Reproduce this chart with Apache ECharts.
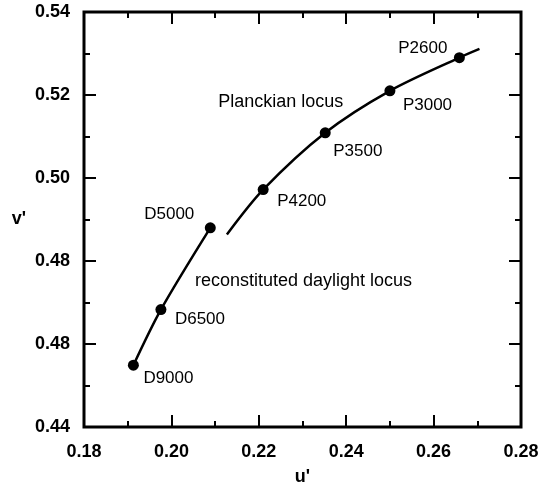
<!DOCTYPE html>
<html>
<head>
<meta charset="utf-8">
<script src="https://cdn.jsdelivr.net/npm/echarts@6/dist/echarts.min.js"></script>
<style>html,body{margin:0;padding:0;background:#fff}#c{width:548px;height:491px}</style>
</head>
<body>
<div id="c"></div>
<script>
// Planckian locus curve (u', v')
const planckU = [0.2127, 0.2210, 0.2352, 0.2500, 0.2659, 0.2705];
const planckV = [0.4864, 0.4972, 0.5109, 0.5210, 0.5290, 0.5311];
// Marked Planckian points
const planckNames = ['P4200', 'P3500', 'P3000', 'P2600'];
const planckPtU = [0.2210, 0.2352, 0.2500, 0.2659];
const planckPtV = [0.4972, 0.5109, 0.5210, 0.5290];
// Reconstituted daylight locus
const dayNames = ['D9000', 'D6500', 'D5000'];
const dayU = [0.1913, 0.1976, 0.2089];
const dayV = [0.4549, 0.4683, 0.4880];
// Tick labels as printed
const xTickLabels = ['0.18', '0.20', '0.22', '0.24', '0.26', '0.28'];
const yTickLabels = ['0.44', '0.48', '0.48', '0.50', '0.52', '0.54'];
// Annotations
const noteTexts = ['Planckian locus', 'reconstituted daylight locus'];
const noteU = [0.2107, 0.2054];
const noteV = [0.5183, 0.4752];

// label placement (style, kept separate from data)
const planckLabelStyle = [
  {align: 'left', offset: [14, 12]},
  {align: 'left', offset: [8, 19]},
  {align: 'left', offset: [13, 14]},
  {align: 'right', offset: [-12, -9]}
];
const dayLabelStyle = [
  {align: 'left', offset: [10, 13]},
  {align: 'left', offset: [14, 10]},
  {align: 'right', offset: [-16, -13]}
];

const FONT = '"Liberation Sans", Arial, Helvetica, sans-serif';
const zip = (a, b) => a.map((v, i) => [v, b[i]]);

function axisCommon(labels, min, show) {
  return {
    type: 'value', min: min, max: min + 0.1, interval: 0.02,
    axisLine: {show: false},
    axisTick: {show: true, inside: true, length: 12, lineStyle: {color: '#000', width: 2}},
    minorTick: {show: true, splitNumber: 2, length: 6, lineStyle: {color: '#000', width: 2}},
    splitLine: {show: false},
    minorSplitLine: {show: false},
    axisLabel: {
      show: show,
      color: '#000', fontFamily: FONT, fontSize: 18, fontWeight: 'bold',
      formatter: v => labels[Math.round((v - min) / 0.02)]
    }
  };
}

const chart = echarts.init(document.getElementById('c'), null, {renderer: 'canvas'});
const xBottom = Object.assign(axisCommon(xTickLabels, 0.18, true), {
  position: 'bottom', name: "u'", nameLocation: 'middle', nameGap: 41,
  nameTextStyle: {color: '#000', fontFamily: FONT, fontSize: 18, fontWeight: 'bold'}
});
xBottom.axisLabel.margin = 16;
const xTop = Object.assign(axisCommon(xTickLabels, 0.18, false), {position: 'top'});
const yLeft = Object.assign(axisCommon(yTickLabels, 0.44, true), {
  position: 'left', name: "v'", nameLocation: 'middle', nameGap: 58, nameRotate: 0,
  nameTextStyle: {color: '#000', fontFamily: FONT, fontSize: 18, fontWeight: 'bold'}
});
yLeft.axisLabel.margin = 14;
const yRight = Object.assign(axisCommon(yTickLabels, 0.44, false), {position: 'right'});

function pointSeries(names, u, v, styles) {
  return {
    type: 'scatter', symbol: 'circle', symbolSize: 11,
    itemStyle: {color: '#000', opacity: 1},
    data: names.map((n, i) => ({
      name: n, value: [u[i], v[i]],
      label: {
        show: true, position: 'inside', formatter: '{b}',
        align: styles[i].align, verticalAlign: 'middle', offset: styles[i].offset,
        color: '#000', fontFamily: FONT, fontSize: 17, opacity: 1
      }
    })),
    z: 5
  };
}

chart.setOption({
  animation: false,
  backgroundColor: '#fff',
  grid: {left: 84, top: 12, width: 437, height: 420, show: true, borderWidth: 3, borderColor: '#000'},
  xAxis: [xBottom, xTop],
  yAxis: [yLeft, yRight],
  series: [
    {type: 'line', data: zip(planckU, planckV), smooth: 0.3, showSymbol: false,
     lineStyle: {color: '#000', width: 2.5}},
    {type: 'line', data: zip(dayU, dayV), smooth: 0.3, showSymbol: false,
     lineStyle: {color: '#000', width: 2.5}},
    pointSeries(planckNames, planckPtU, planckPtV, planckLabelStyle),
    pointSeries(dayNames, dayU, dayV, dayLabelStyle),
    {type: 'scatter', symbolSize: 0, itemStyle: {color: '#000', opacity: 1},
     data: noteTexts.map((t, i) => ({name: t, value: [noteU[i], noteV[i]]})),
     label: {show: true, position: 'inside', formatter: '{b}', align: 'left', verticalAlign: 'middle',
             color: '#000', fontFamily: FONT, fontSize: 18, opacity: 1}}
  ]
});
</script>
</body>
</html>
